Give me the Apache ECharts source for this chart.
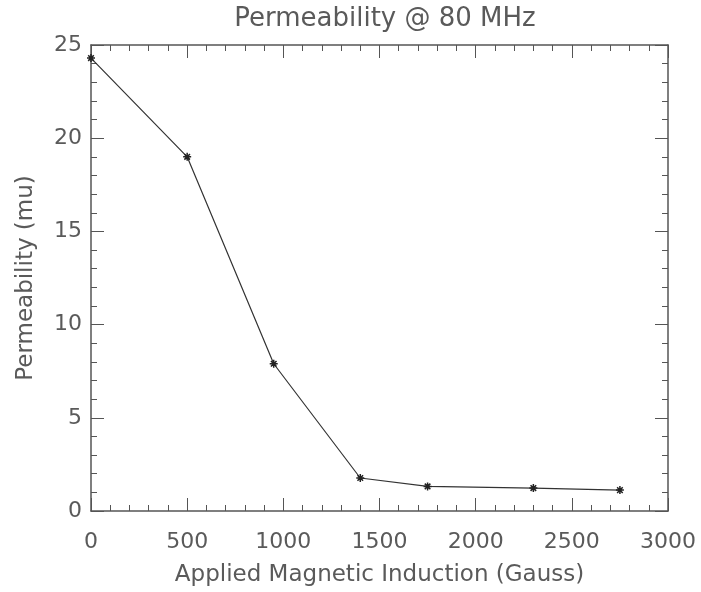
<!DOCTYPE html>
<html><head><meta charset="utf-8">
<script src="https://cdn.jsdelivr.net/npm/echarts@6/dist/echarts.min.js"></script>
<style>html,body{margin:0;padding:0;background:#fff}#c{width:701px;height:592px}</style>
</head><body><div id="c"></div>
<script>
const inductionGauss = [0, 500, 950, 1400, 1750, 2300, 2750];
const permeability = [24.3, 19.0, 7.9, 1.77, 1.32, 1.23, 1.12];
const xTicks = {min: 0, max: 3000, step: 500};
const yTicks = {min: 0, max: 25, step: 5};
const titleText = 'Permeability @ 80 MHz';
const xName = 'Applied Magnetic Induction (Gauss)';
const yName = 'Permeability (mu)';

const txt = '#5a5a5a';
const font = 'DejaVu Sans';
const asterisk = 'path://M0,-5L0,5M-5,0L5,0M-3.5,-3.5L3.5,3.5M-3.5,3.5L3.5,-3.5';

function axisCommon(showLabel, margin) {
  return {
    axisLine: {show: true, onZero: false, lineStyle: {color: '#555', width: 1.5}},
    axisTick: {show: true, inside: true, length: 13, lineStyle: {color: '#555', width: 1}},
    minorTick: {show: true, splitNumber: 5, length: 6, lineStyle: {color: '#555', width: 1}},
    splitLine: {show: false},
    axisLabel: {show: showLabel, margin: margin, color: txt, fontFamily: font, fontSize: 22, formatter: v => String(v)}
  };
}

const chart = echarts.init(document.getElementById('c'));
chart.setOption({
  backgroundColor: '#fff',
  animation: false,
  title: {text: titleText, left: 380, top: 1, textAlign: 'center',
    textStyle: {color: txt, fontFamily: font, fontSize: 26, fontWeight: 'normal'}},
  grid: {left: 91, top: 45, right: 33, bottom: 80},
  xAxis: [
    Object.assign(axisCommon(true, 20), {type: 'value', min: xTicks.min, max: xTicks.max, interval: xTicks.step,
      name: xName, nameLocation: 'middle', nameGap: 53,
      nameTextStyle: {color: txt, fontFamily: font, fontSize: 23}}),
    Object.assign(axisCommon(false, 8), {type: 'value', position: 'top', min: xTicks.min, max: xTicks.max, interval: xTicks.step})
  ],
  yAxis: [
    Object.assign(axisCommon(true, 9), {type: 'value', min: yTicks.min, max: yTicks.max, interval: yTicks.step,
      name: yName, nameLocation: 'middle', nameGap: 53, nameRotate: 90,
      nameTextStyle: {color: txt, fontFamily: font, fontSize: 23}}),
    Object.assign(axisCommon(false, 8), {type: 'value', position: 'right', min: yTicks.min, max: yTicks.max, interval: yTicks.step})
  ],
  series: [{
    type: 'line',
    data: inductionGauss.map((x, i) => [x, permeability[i]]),
    symbol: asterisk,
    symbolSize: 8,
    showAllSymbol: true,
    lineStyle: {color: '#333', width: 1.2},
    itemStyle: {color: '#222', borderColor: '#222', borderWidth: 1.5}
  }]
});
</script></body></html>
